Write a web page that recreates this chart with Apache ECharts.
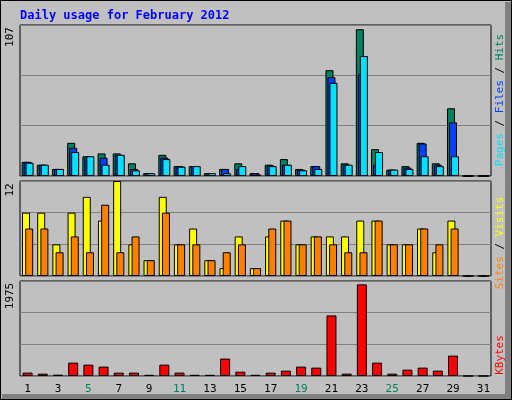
<!DOCTYPE html>
<html><head><meta charset="utf-8">
<script src="https://cdn.jsdelivr.net/npm/echarts@6/dist/echarts.min.js"></script>
<style>html,body{margin:0;padding:0;background:#c0c0c0}#main{width:512px;height:400px}</style>
</head><body><div id="main"></div>
<script>
var days = [];
for (var i = 1; i <= 31; i++) days.push(String(i));
var weekend = ['4','5','11','12','18','19','25','26'];
var hits  = [10,8,5,23.5,14,16,16,9,2,15,7,7,2,5,9,2,8,12,5,7,75,9,104,19,4.5,7,23.5,9,48,0,0];
var files = [10,8,5,20,13,13,15,5,2,13,7,7,2,5,5,2,7.5,8,4.5,7,70,8,72,8,4.5,6,23,8,38,0,0];
var pages = [9.4,8,5,17,14,8,15,4,2,12,6.6,7,2,2,7,1,7,8,4,5,66,8,85,17,4.5,5,14,7,14,0,0];
var visits = [8,8,4,8,10,7,12,4,2,10,4,6,2,1,5,1,5,7,4,5,5,5,7,7,4,4,6,3,7,0,0];
var sites  = [6,6,3,5,3,9,3,5,2,8,4,4,2,3,4,1,6,7,4,5,4,3,3,7,4,4,6,4,6,0,0];
var kbytes = [70,49,28,278,236,195,70,70,25,236,70,25,25,362,90,25,70,111,195,174,1259,49,1905,278,49,132,174,111,424,0,0];
var maxHits = 107, maxVisits = 12, maxKb = 1975;

var myChart = echarts.init(document.getElementById('main'));
var grids = [
  {left: 20, right: 21, top: 25, height: 151},
  {left: 20, right: 21, top: 181, height: 95},
  {left: 20, right: 21, top: 281, height: 95}
];
function xa(idx, show) {
  return {
    type: 'category', gridIndex: idx, data: days,
    axisLine: {show: false}, axisTick: {show: false},
    axisLabel: {show: show, margin: 8, fontFamily: 'DejaVu Sans Mono', fontSize: 11,
      color: function (v) { return weekend.indexOf(v) >= 0 ? '#00805c' : '#000'; }}
  };
}
function ya(idx, max) {
  return {
    type: 'value', gridIndex: idx, min: 0, max: max, interval: max / 3,
    axisLabel: {show: false}, axisLine: {show: false}, axisTick: {show: false},
    splitLine: {lineStyle: {color: '#808080', width: 1}}
  };
}
function bar(name, data, idx, color, w, gap) {
  return {
    name: name, type: 'bar', xAxisIndex: idx, yAxisIndex: idx, data: data,
    barWidth: w, barGap: gap, animation: false,
    itemStyle: {color: color, borderColor: '#000', borderWidth: 1}
  };
}
function vtext(x, y, parts) {
  var s = '', rich = {};
  parts.forEach(function (p, k) {
    rich['p' + k] = {fill: p[1], fontFamily: 'DejaVu Sans Mono', fontSize: 11};
    s += '{p' + k + '|' + p[0] + '}';
  });
  return {type: 'text', x: x, y: y, rotation: Math.PI / 2,
    style: {text: s, rich: rich, align: 'center', verticalAlign: 'middle'}};
}

option = {
  backgroundColor: '#c0c0c0',
  grid: grids.map(function (g) {
    return Object.assign({show: true, backgroundColor: '#c0c0c0', borderColor: '#000', borderWidth: 1}, g);
  }),
  xAxis: [xa(0, false), xa(1, false), xa(2, true)],
  yAxis: [ya(0, maxHits), ya(1, maxVisits), ya(2, maxKb)],
  series: [
    bar('Hits', hits, 0, '#00805c', 8, '-75%'),
    bar('Files', files, 0, '#0040ff', 8, '-75%'),
    bar('Pages', pages, 0, '#00e0ff', 8, '-75%'),
    bar('Visits', visits, 1, '#ffff00', 8, '-60%'),
    bar('Sites', sites, 1, '#ff8000', 8, '-60%'),
    bar('KBytes', kbytes, 2, '#ff0000', 10, '0%')
  ],
  graphic: [
    {type: 'rect', shape: {x: 0, y: 0, width: 512, height: 400}, style: {fill: 'none', stroke: '#000', lineWidth: 2}, silent: true},
    {type: 'rect', shape: {x: 505, y: 2, width: 6, height: 397}, style: {fill: '#808080'}},
    {type: 'rect', shape: {x: 2, y: 394, width: 509, height: 5}, style: {fill: '#808080'}},
    {type: 'text', x: 20, y: 10, style: {text: 'Daily usage for February 2012', fill: '#0000ff',
      font: 'bold 12px "DejaVu Sans Mono"'}},
    vtext(10, 37, [[String(maxHits), '#000']]),
    vtext(10, 190, [[String(maxVisits), '#000']]),
    vtext(10, 296, [[String(maxKb), '#000']]),
    vtext(500, 100, [['Pages', '#00e0ff'], [' / ', '#000'], ['Files', '#0040ff'], [' / ', '#000'], ['Hits', '#00805c']]),
    vtext(500, 243, [['Sites', '#ff8000'], [' / ', '#000'], ['Visits', '#ffff00']]),
    vtext(500, 355, [['KBytes', '#ff0000']])
  ]
};
myChart.setOption(option);
</script></body></html>
